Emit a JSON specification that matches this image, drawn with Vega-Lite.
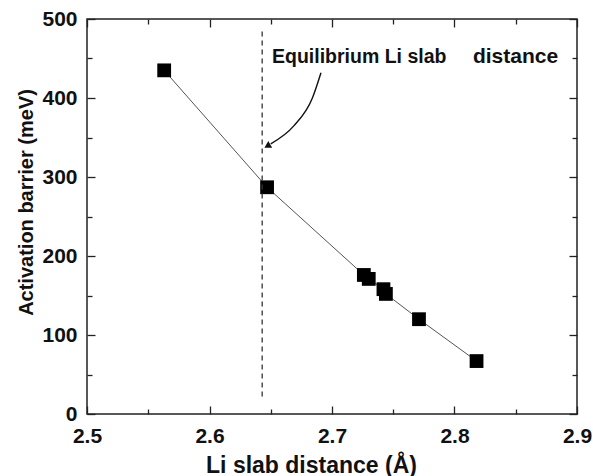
{
  "$schema": "https://vega.github.io/schema/vega-lite/v6.json",
  "width": 490,
  "height": 395,
  "autosize": {"type": "none"},
  "padding": {"left": 87, "top": 19, "right": 16, "bottom": 62},
  "background": "white",
  "config": {
    "view": {"stroke": "#222", "strokeWidth": 1.5},
    "font": "Liberation Sans",
    "axis": {
      "labelFont": "Liberation Sans",
      "labelFontWeight": "bold",
      "labelFontSize": 21,
      "labelColor": "#111",
      "titleFont": "Liberation Sans",
      "titleFontWeight": "bold",
      "titleFontSize": 20,
      "titleColor": "#111",
      "domain": false,
      "grid": false,
      "tickColor": "#222",
      "tickWidth": 1.3
    }
  },
  "datasets": {
    "pts": [
      {"d": 2.563, "e": 435},
      {"d": 2.647, "e": 287},
      {"d": 2.726, "e": 176},
      {"d": 2.730, "e": 171},
      {"d": 2.742, "e": 158},
      {"d": 2.744, "e": 152},
      {"d": 2.771, "e": 120},
      {"d": 2.818, "e": 67}
    ],
    "arrow": [
      {"d": 2.691, "e": 432, "o": 1},
      {"d": 2.684, "e": 400, "o": 2},
      {"d": 2.669, "e": 365, "o": 3},
      {"d": 2.650, "e": 342, "o": 4}
    ]
  },
  "resolve": {"axis": {"x": "independent", "y": "independent"}},
  "layer": [
    {
      "data": {"name": "pts"},
      "mark": {"type": "line", "color": "#555", "strokeWidth": 1},
      "encoding": {
        "x": {
          "field": "d", "type": "quantitative",
          "scale": {"domain": [2.5, 2.9], "nice": false, "zero": false},
          "title": "Li slab distance (Å)",
          "axis": {
            "values": [2.5, 2.55, 2.6, 2.65, 2.7, 2.75, 2.8, 2.85, 2.9],
            "labelExpr": "abs(datum.value*10 - round(datum.value*10)) > 0.01 ? '' : format(datum.value, '.1f')",
            "tickSize": {"condition": {"test": "abs(datum.value*10 - round(datum.value*10)) > 0.01", "value": -5}, "value": -8},
            "labelPadding": 19,
            "titleFontSize": 23,
            "titleX": 224,
            "titleY": 58,
            "titleAlign": "center",
            "titleBaseline": "alphabetic",
            "labelFlush": false
          }
        },
        "y": {
          "field": "e", "type": "quantitative",
          "scale": {"domain": [0, 500], "nice": false},
          "title": "Activation barrier (meV)",
          "axis": {
            "values": [0, 50, 100, 150, 200, 250, 300, 350, 400, 450, 500],
            "labelExpr": "datum.value % 100 != 0 ? '' : format(datum.value, 'd')",
            "tickSize": {"condition": {"test": "datum.value % 100 != 0", "value": -5}, "value": -8},
            "labelPadding": 18,
            "titleX": -55,
            "titleY": 183,
            "titleAlign": "center",
            "titleBaseline": "alphabetic",
            "titleAngle": 270
          }
        }
      }
    },
    {
      "data": {"name": "pts"},
      "mark": {"type": "line", "opacity": 0},
      "encoding": {
        "x": {
          "field": "d", "type": "quantitative",
          "axis": {
            "orient": "top", "title": null, "labels": false,
            "values": [2.5, 2.55, 2.6, 2.65, 2.7, 2.75, 2.8, 2.85, 2.9],
            "tickSize": {"condition": {"test": "abs(datum.value*10 - round(datum.value*10)) > 0.01", "value": -5}, "value": -8}
          }
        },
        "y": {
          "field": "e", "type": "quantitative",
          "axis": {
            "orient": "right", "title": null, "labels": false,
            "values": [0, 50, 100, 150, 200, 250, 300, 350, 400, 450, 500],
            "tickSize": {"condition": {"test": "datum.value % 100 != 0", "value": -5}, "value": -8}
          }
        }
      }
    },
    {
      "data": {"name": "pts"},
      "mark": {"type": "point", "shape": "square", "filled": true, "color": "#000", "size": 190, "opacity": 1},
      "encoding": {
        "x": {"field": "d", "type": "quantitative", "axis": null},
        "y": {"field": "e", "type": "quantitative", "axis": null}
      }
    },
    {
      "data": {"values": [{"d": 2.643, "e": 22, "e2": 486}]},
      "mark": {"type": "rule", "color": "#333", "strokeWidth": 1.3, "strokeDash": [5, 4]},
      "encoding": {
        "x": {"field": "d", "type": "quantitative", "axis": null},
        "y": {"field": "e", "type": "quantitative", "axis": null},
        "y2": {"field": "e2"}
      }
    },
    {
      "data": {"name": "arrow"},
      "mark": {"type": "line", "color": "#111", "strokeWidth": 1.4, "interpolate": "monotone"},
      "encoding": {
        "x": {"field": "d", "type": "quantitative", "axis": null},
        "y": {"field": "e", "type": "quantitative", "axis": null},
        "order": {"field": "o"}
      }
    },
    {
      "data": {"values": [{"d": 2.648, "e": 340}]},
      "mark": {"type": "point", "shape": "triangle", "filled": true, "color": "#111", "size": 60, "angle": 240, "opacity": 1},
      "encoding": {
        "x": {"field": "d", "type": "quantitative", "axis": null},
        "y": {"field": "e", "type": "quantitative", "axis": null}
      }
    },
    {
      "data": {"values": [{"d": 2.651, "e": 444, "t": "Equilibrium Li slab"}]},
      "mark": {"type": "text", "align": "left", "baseline": "alphabetic", "font": "Liberation Sans", "fontWeight": "bold", "fontSize": 19.5, "color": "#111"},
      "encoding": {
        "x": {"field": "d", "type": "quantitative", "axis": null},
        "y": {"field": "e", "type": "quantitative", "axis": null},
        "text": {"field": "t"}
      }
    },
    {
      "data": {"values": [{"d": 2.815, "e": 444, "t": "distance"}]},
      "mark": {"type": "text", "align": "left", "baseline": "alphabetic", "font": "Liberation Sans", "fontWeight": "bold", "fontSize": 21, "color": "#111"},
      "encoding": {
        "x": {"field": "d", "type": "quantitative", "axis": null},
        "y": {"field": "e", "type": "quantitative", "axis": null},
        "text": {"field": "t"}
      }
    }
  ]
}
